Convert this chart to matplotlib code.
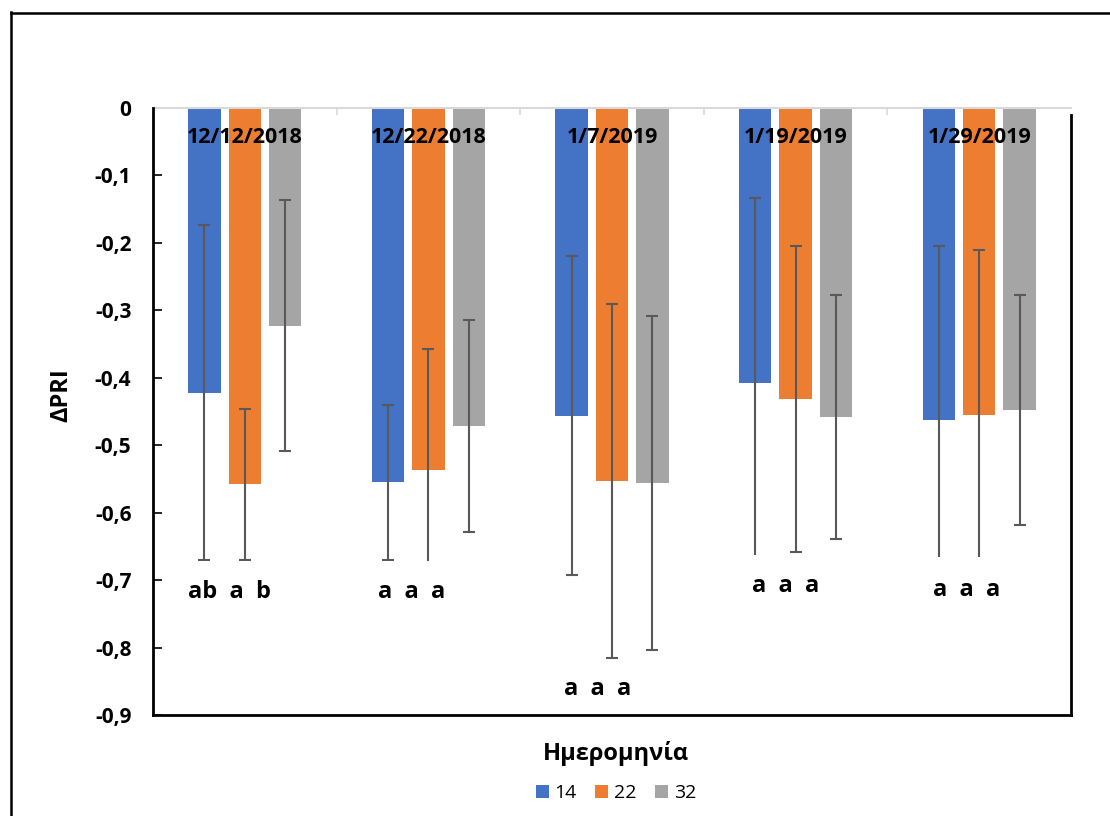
import matplotlib
matplotlib.use("Agg")
import matplotlib.pyplot as plt
from matplotlib.patches import Patch
from matplotlib.lines import Line2D
import numpy as np

plt.rcParams['font.family'] = ['Open Sans', 'DejaVu Sans']

# ---- data -------------------------------------------------------------
dates = ['12/12/2018', '12/22/2018', '1/7/2019', '1/19/2019', '1/29/2019']
series = ['14', '22', '32']

mean_14 = [-0.422, -0.555, -0.456, -0.408, -0.462]
mean_22 = [-0.558, -0.537, -0.553, -0.431, -0.455]
mean_32 = [-0.323, -0.471, -0.556, -0.458, -0.448]

err_14 = [0.248, 0.115, 0.236, 0.275, 0.257]
err_22 = [0.112, 0.180, 0.262, 0.227, 0.245]
err_32 = [0.186, 0.157, 0.247, 0.181, 0.171]

# significance letters per date
sig_letters = ['ab  a  b', 'a  a  a', 'a  a  a', 'a  a  a', 'a  a  a']
sig_y = [-0.718, -0.718, -0.862, -0.709, -0.714]

y_ticks = [0, -0.1, -0.2, -0.3, -0.4, -0.5, -0.6, -0.7, -0.8, -0.9]

# ---- styling ----------------------------------------------------------
colors = ['#4472C4', '#ED7D31', '#A5A5A5']
bar_offsets = [-0.22, 0.0, 0.22]
bar_width = 0.177
sig_dx = [-0.084, -0.093, -0.079, -0.054, -0.071]
sig_pad = [0.83, 0.83, 0.55, 0.83, 0.86]

W, H = 1110, 816
fig = plt.figure(figsize=(W / 100, H / 100), dpi=100)
ax = fig.add_axes([153 / W, 1 - 715 / H, (1071 - 153) / W, (715 - 108) / H])

x = np.arange(len(dates))
means = [mean_14, mean_22, mean_32]
errs = [err_14, err_22, err_32]

for k in range(3):
    xs = x + bar_offsets[k]
    ax.bar(xs, means[k], width=bar_width, color=colors[k], zorder=2,
           label=series[k])
    ax.errorbar(xs, means[k], yerr=errs[k], fmt='none', ecolor='#595959',
                elinewidth=1.5, capsize=4.2, capthick=1.5, zorder=3)

ax.set_xlim(-0.5, len(dates) - 0.5)
ax.set_ylim(-0.9, 0)

# value axis
ax.set_yticks(y_ticks)
ax.set_yticklabels([('%g' % v).replace('.', ',') for v in y_ticks],
                   fontsize=15, fontweight='bold')
ax.tick_params(axis='y', direction='in', length=6.5, width=1.2,
               color='black', pad=15.5)

# category axis sits at y = 0 (top of the plot)
ax.xaxis.set_ticks_position('top')
ax.set_xticks(np.arange(0.5, len(dates) - 0.5, 1.0))
ax.set_xticklabels([])
ax.tick_params(axis='x', direction='in', length=5, width=1.2,
               color='#D9D9D9')
ax.spines['top'].set_color('#D9D9D9')
ax.spines['top'].set_linewidth(1.5)
for side in ('left', 'bottom', 'right'):
    ax.spines[side].set_color('black')
    ax.spines[side].set_linewidth(2)
    ax.spines[side].set_zorder(8)
ax.spines['right'].set_bounds(-0.9, -0.0104)

for i, d in enumerate(dates):
    ax.annotate(d, xy=(x[i], 0), xytext=(0, -21.5), textcoords='offset points',
                ha='center', va='center', fontsize=15.5, fontweight='bold',
                zorder=5)

for i, s in enumerate(sig_letters):
    ax.text(x[i] + sig_dx[i], sig_y[i], s, ha='center', va='center',
            fontsize=17, fontweight='bold', zorder=6,
            bbox=dict(boxstyle='square,pad=%g' % sig_pad[i],
                      facecolor='white', edgecolor='none'))

fig.text(61 / W, 1 - 395 / H, 'ΔPRI', rotation=90, ha='center', va='center',
         fontsize=17, fontweight='bold')
fig.text(616 / W, 1 - 753 / H, 'Ημερομηνία', ha='center', va='center',
         fontsize=17, fontweight='bold')

handles = [Patch(facecolor=c, edgecolor='none') for c in colors]
fig.legend(handles, series, loc='center', bbox_to_anchor=(616 / W, 1 - 793 / H),
           ncol=3, frameon=False, fontsize=14, handlelength=0.67,
           handleheight=0.67, handletextpad=0.3, columnspacing=0.95,
           borderpad=0)

# chart frame (left and top edges)
for xs_, ys_ in [((11 / W, 11 / W), (1 - 12 / H, 0)),
                 ((11 / W, 1), (1 - 12.5 / H, 1 - 12.5 / H))]:
    fig.add_artist(Line2D(xs_, ys_, color='black', linewidth=1.8))

fig.savefig('out.png', dpi=100)
